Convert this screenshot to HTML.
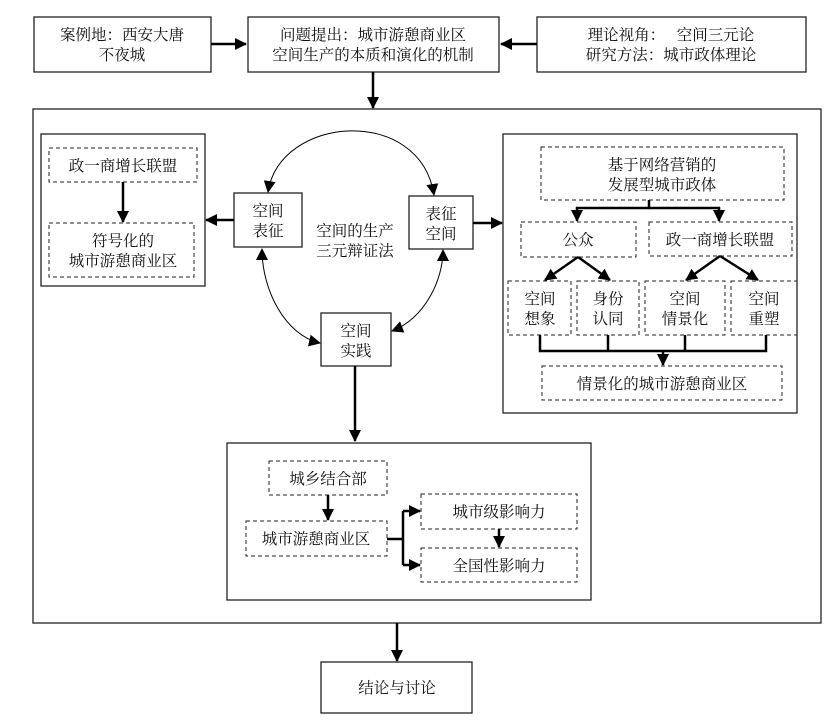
<!DOCTYPE html>
<html><head><meta charset="utf-8"><style>
html,body{margin:0;padding:0;background:#fff;}
svg{display:block;}
text{font-family:"Liberation Serif","Noto Serif CJK SC",serif;font-size:15.5px;fill:#111;text-anchor:middle;}
</style></head><body>
<svg width="828" height="721" viewBox="0 0 828 721" xmlns="http://www.w3.org/2000/svg">
<defs>
<marker id="b" markerWidth="12" markerHeight="12" refX="11" refY="6" orient="auto" markerUnits="userSpaceOnUse"><path d="M0,0 L12,6 L0,12 z" fill="#000"/></marker>
<marker id="bs" markerWidth="12" markerHeight="12" refX="1" refY="6" orient="auto" markerUnits="userSpaceOnUse"><path d="M12,0 L0,6 L12,12 z" fill="#000"/></marker>
</defs>
<g fill="none" stroke="#222" stroke-width="1.3">
<rect x="34" y="17" width="177" height="55"/>
<rect x="248" y="17" width="251" height="55"/>
<rect x="537" y="17" width="269" height="55"/>
<rect x="33" y="109" width="788" height="514"/>
<rect x="41" y="134" width="164" height="152"/>
<rect x="503" y="134" width="294" height="279"/>
<rect x="234" y="193" width="68" height="54"/>
<rect x="409" y="196" width="64" height="53"/>
<rect x="321" y="313" width="70" height="53"/>
<rect x="227" y="443" width="364" height="157"/>
<rect x="321" y="662" width="151" height="51"/>
</g>
<g fill="none" stroke="#222" stroke-width="1" stroke-dasharray="4,3">
<rect x="49" y="148" width="148" height="34"/>
<rect x="49" y="223" width="145" height="54"/>
<rect x="541" y="147" width="243" height="53"/>
<rect x="521" y="222" width="115" height="35"/>
<rect x="649" y="222" width="143" height="34"/>
<rect x="508" y="281" width="63" height="54"/>
<rect x="577" y="281" width="62" height="54"/>
<rect x="645" y="281" width="80" height="54"/>
<rect x="731" y="281" width="66" height="54"/>
<rect x="542" y="366" width="240" height="34"/>
<rect x="269" y="461" width="118" height="34"/>
<rect x="246" y="521" width="141" height="35"/>
<rect x="421" y="494" width="156" height="35"/>
<rect x="421" y="548" width="156" height="34"/>
</g>
<g fill="none" stroke="#000" stroke-width="2.5">
<line x1="211" y1="44" x2="246" y2="44" marker-end="url(#b)"/>
<line x1="537" y1="44" x2="501" y2="44" marker-end="url(#b)"/>
<line x1="373" y1="72" x2="373" y2="108" marker-end="url(#b)"/>
<line x1="123" y1="182" x2="123" y2="222" marker-end="url(#b)"/>
<line x1="234" y1="220" x2="206" y2="220" marker-end="url(#b)"/>
<line x1="473" y1="223" x2="502" y2="223" marker-end="url(#b)"/>
<polyline points="649,200 649,208 577,208 577,221" marker-end="url(#b)"/>
<polyline points="649,208 719,208 719,221" marker-end="url(#b)"/>
<line x1="578" y1="257" x2="545" y2="280" marker-end="url(#b)"/>
<line x1="578" y1="257" x2="610" y2="280" marker-end="url(#b)"/>
<line x1="720" y1="256" x2="686" y2="280" marker-end="url(#b)"/>
<line x1="720" y1="256" x2="758" y2="280" marker-end="url(#b)"/>
<polyline points="540,335 540,351 766,351 766,335"/>
<line x1="608" y1="335" x2="608" y2="351"/>
<line x1="685" y1="335" x2="685" y2="351"/>
<line x1="663" y1="351" x2="663" y2="365" marker-end="url(#b)"/>
<line x1="355" y1="366" x2="355" y2="441" marker-end="url(#b)"/>
<line x1="328" y1="495" x2="328" y2="520" marker-end="url(#b)"/>
<polyline points="387,539 403,539"/>
<polyline points="403,511 403,565"/>
<line x1="403" y1="511" x2="420" y2="511" marker-end="url(#b)"/>
<line x1="403" y1="565" x2="420" y2="565" marker-end="url(#b)"/>
<line x1="499" y1="529" x2="499" y2="547" marker-end="url(#b)"/>
<line x1="397" y1="623" x2="397" y2="661" marker-end="url(#b)"/>
</g>
<g fill="none" stroke="#000" stroke-width="1">
<path d="M268,192 C280,115 420,105 434,195" marker-start="url(#bs)" marker-end="url(#b)"/>
<path d="M262,249 C262,290 285,335 320,343" marker-start="url(#bs)" marker-end="url(#b)"/>
<path d="M392,331 C425,318 443,280 443,250" marker-start="url(#bs)" marker-end="url(#b)"/>
</g>
<text x="122" y="40">案例地：西安大唐</text>
<text x="122" y="60">不夜城</text>
<text x="373" y="40">问题提出：城市游憩商业区</text>
<text x="373" y="60">空间生产的本质和演化的机制</text>
<text x="671" y="40" xml:space="preserve">理论视角：   空间三元论</text>
<text x="671" y="60">研究方法：城市政体理论</text>
<text x="123" y="171">政一商增长联盟</text>
<text x="123" y="246">符号化的</text>
<text x="123" y="266">城市游憩商业区</text>
<text x="268" y="216">空间</text>
<text x="268" y="236">表征</text>
<text x="441" y="219">表征</text>
<text x="441" y="239">空间</text>
<text x="355" y="236">空间的生产</text>
<text x="355" y="256">三元辩证法</text>
<text x="356" y="336">空间</text>
<text x="356" y="356">实践</text>
<text x="662" y="170">基于网络营销的</text>
<text x="662" y="190">发展型城市政体</text>
<text x="578" y="245">公众</text>
<text x="720" y="245">政一商增长联盟</text>
<text x="540" y="304">空间</text>
<text x="540" y="324">想象</text>
<text x="608" y="304">身份</text>
<text x="608" y="324">认同</text>
<text x="685" y="304">空间</text>
<text x="685" y="324">情景化</text>
<text x="764" y="304">空间</text>
<text x="764" y="324">重塑</text>
<text x="662" y="389">情景化的城市游憩商业区</text>
<text x="328" y="484">城乡结合部</text>
<text x="316" y="544">城市游憩商业区</text>
<text x="499" y="517">城市级影响力</text>
<text x="499" y="571">全国性影响力</text>
<text x="397" y="693">结论与讨论</text>
</svg>
</body></html>
